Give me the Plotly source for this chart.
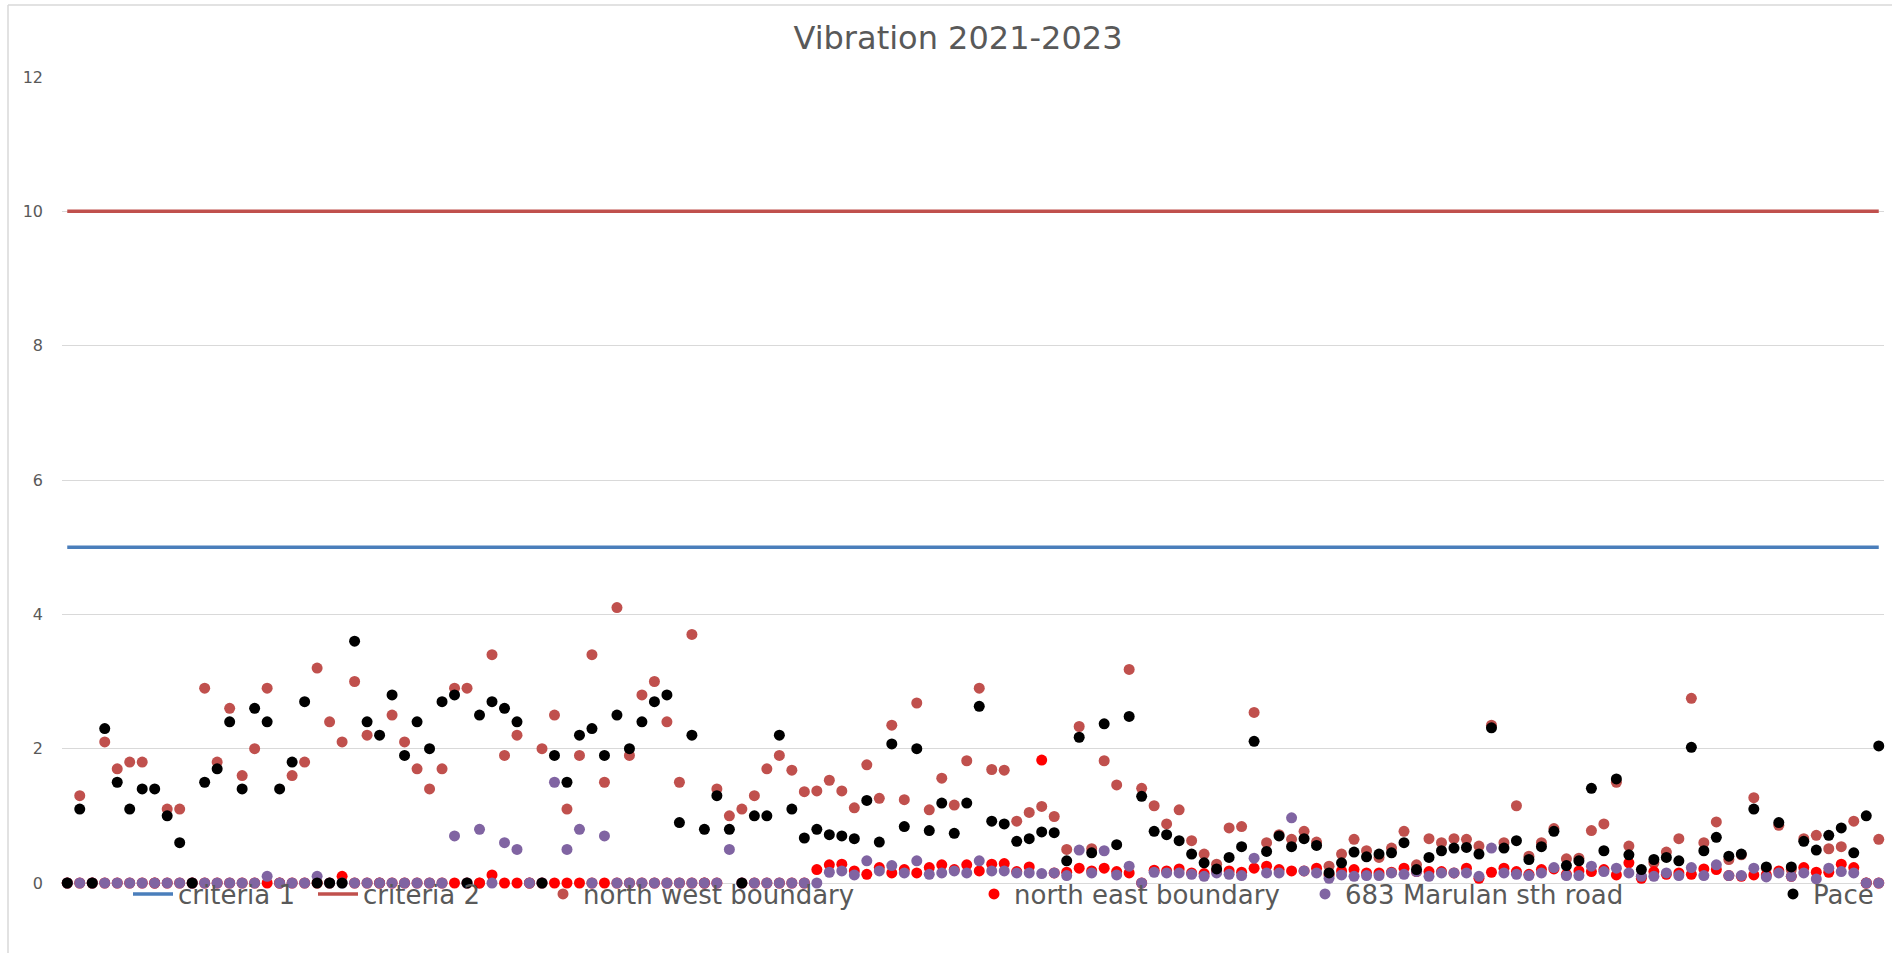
import plotly.graph_objects as go

N = 146
categories = list(range(N))

criteria_1 = [5] * N
criteria_2 = [10] * N

north_west = [
    0, 1.3, 0, 2.1, 1.7, 1.8, 1.8, 0, 1.1, 1.1,
    0, 2.9, 1.8, 2.6, 1.6, 2.0, 2.9, 0, 1.6, 1.8,
    3.2, 2.4, 2.1, 3.0, 2.2, 0, 2.5, 2.1, 1.7, 1.4,
    1.7, 2.9, 2.9, 0, 3.4, 1.9, 2.2, 0, 2.0, 2.5,
    1.1, 1.9, 3.4, 1.5, 4.1, 1.9, 2.8, 3.0, 2.4, 1.5,
    3.7, 0, 1.4, 1.0, 1.1, 1.3, 1.7, 1.9, 1.68, 1.36,
    1.37, 1.53, 1.37, 1.12, 1.76, 1.26, 2.35, 1.24, 2.68, 1.09,
    1.56, 1.16, 1.82, 2.9, 1.69, 1.68, 0.92, 1.05, 1.14, 0.99,
    0.5, 2.33, 0.51, 1.82, 1.46, 3.18, 1.41, 1.15, 0.88, 1.09,
    0.63, 0.43, 0.28, 0.82, 0.84, 2.54, 0.6, 0.72, 0.65, 0.77,
    0.61, 0.25, 0.43, 0.65, 0.48, 0.38, 0.52, 0.77, 0.27, 0.66,
    0.6, 0.66, 0.65, 0.55, 2.35, 0.6, 1.15, 0.4, 0.6, 0.81,
    0.36, 0.37, 0.78, 0.88, 1.5, 0.55, 0.1, 0.3, 0.46, 0.66,
    2.75, 0.6, 0.91, 0.35, 0.42, 1.27, 0.22, 0.86, 0.2, 0.66,
    0.71, 0.51, 0.54, 0.92, 0, 0.65,
]

north_east = [
    0, 0, 0, 0, 0, 0, 0, 0, 0, 0,
    0, 0, 0, 0, 0, 0, 0, 0, 0, 0,
    0, 0, 0.1, 0, 0, 0, 0, 0, 0, 0,
    0, 0, 0, 0, 0.12, 0, 0, 0, 0, 0,
    0, 0, 0, 0, 0, 0, 0, 0, 0, 0,
    0, 0, 0, None, 0, 0, 0, 0, 0, 0,
    0.2, 0.27, 0.28, 0.18, 0.13, 0.23, 0.15, 0.2, 0.15, 0.23,
    0.27, 0.2, 0.27, 0.18, 0.28, 0.29, 0.17, 0.24, 1.83, 0.15,
    0.16, 0.22, 0.18, 0.22, 0.17, 0.15, 0, 0.19, 0.18, 0.21,
    0.15, 0.14, 0.18, 0.18, 0.16, 0.22, 0.25, 0.2, 0.18, 0.18,
    0.22, 0.12, 0.18, 0.2, 0.15, 0.15, 0.16, 0.22, 0.17, 0.17,
    0.17, 0.15, 0.22, 0.07, 0.16, 0.22, 0.17, 0.13, 0.2, 0.21,
    0.13, 0.18, 0.17, 0.2, 0.12, 0.3, 0.07, 0.17, 0.13, 0.15,
    0.13, 0.21, 0.2, 0.11, 0.1, 0.12, 0.12, 0.18, 0.1, 0.23,
    0.16, 0.16, 0.28, 0.23, 0, 0,
]

marulan_683 = [
    0, 0, 0, 0, 0, 0, 0, 0, 0, 0,
    0, 0, 0, 0, 0, 0, 0.1, 0, 0, 0,
    0.1, 0, 0, 0, 0, 0, 0, 0, 0, 0,
    0, 0.7, 0, 0.8, 0, 0.6, 0.5, 0, 0, 1.5,
    0.5, 0.8, 0, 0.7, 0, 0, 0, 0, 0, 0,
    0, 0, 0, 0.5, 0, 0, 0, 0, 0, 0,
    0, 0.16, 0.18, 0.12, 0.33, 0.18, 0.26, 0.15, 0.33, 0.13,
    0.15, 0.18, 0.15, 0.33, 0.18, 0.18, 0.15, 0.15, 0.14, 0.15,
    0.11, 0.49, 0.15, 0.48, 0.12, 0.25, 0, 0.16, 0.15, 0.15,
    0.13, 0.1, 0.15, 0.13, 0.11, 0.37, 0.15, 0.15, 0.97, 0.18,
    0.15, 0.07, 0.12, 0.1, 0.11, 0.11, 0.15, 0.13, 0.17, 0.1,
    0.15, 0.15, 0.15, 0.1, 0.52, 0.15, 0.13, 0.11, 0.15, 0.23,
    0.11, 0.11, 0.25, 0.17, 0.22, 0.15, 0.1, 0.1, 0.15, 0.11,
    0.23, 0.11, 0.27, 0.11, 0.11, 0.22, 0.09, 0.15, 0.1, 0.15,
    0.06, 0.22, 0.17, 0.15, 0, 0,
]

pace = [
    0, 1.1, 0, 2.3, 1.5, 1.1, 1.4, 1.4, 1.0, 0.6,
    0, 1.5, 1.7, 2.4, 1.4, 2.6, 2.4, 1.4, 1.8, 2.7,
    0, 0, 0, 3.6, 2.4, 2.2, 2.8, 1.9, 2.4, 2.0,
    2.7, 2.8, 0, 2.5, 2.7, 2.6, 2.4, None, 0, 1.9,
    1.5, 2.2, 2.3, 1.9, 2.5, 2.0, 2.4, 2.7, 2.8, 0.9,
    2.2, 0.8, 1.3, 0.8, 0, 1.0, 1.0, 2.2, 1.1, 0.67,
    0.8, 0.72, 0.7, 0.66, 1.23, 0.61, 2.07, 0.84, 2.0, 0.78,
    1.19, 0.74, 1.19, 2.63, 0.92, 0.88, 0.62, 0.66, 0.76, 0.75,
    0.33, 2.17, 0.45, 2.37, 0.57, 2.48, 1.29, 0.77, 0.72, 0.63,
    0.43, 0.3, 0.21, 0.38, 0.54, 2.11, 0.47, 0.7, 0.54, 0.66,
    0.56, 0.15, 0.3, 0.46, 0.39, 0.43, 0.45, 0.6, 0.2, 0.38,
    0.48, 0.52, 0.53, 0.43, 2.31, 0.52, 0.63, 0.35, 0.54, 0.77,
    0.26, 0.33, 1.41, 0.48, 1.55, 0.42, 0.2, 0.35, 0.38, 0.33,
    2.02, 0.48, 0.68, 0.4, 0.43, 1.1, 0.24, 0.9, 0.24, 0.62,
    0.49, 0.71, 0.82, 0.45, 1.0, 2.04,
]

y_ticks = [0, 2, 4, 6, 8, 10, 12]
title_text = "Vibration 2021-2023"

FONT = "DejaVu Sans"
GREY = "#595959"
W, H = 1892, 953
ML, MR, MT, MB = 62, 8, 77, 70
PW = W - ML - MR
PH = H - MT - MB


def px_to_paper_x(px):
    return (px - ML) / PW


def px_to_paper_y(py):
    return (H - MB - py) / PH


fig = go.Figure()

fig.add_trace(go.Scatter(x=categories, y=criteria_1, mode="lines", name="criteria 1",
                         line=dict(color="#4A7EBB", width=3.5), legend="legend",
                         showlegend=True))
fig.add_trace(go.Scatter(x=categories, y=criteria_2, mode="lines", name="criteria 2",
                         line=dict(color="#C0504D", width=3.5), legend="legend2",
                         showlegend=True))

marker_series = [
    ("north west boundary", north_west, "#C0504D", "legend3"),
    ("north east boundary", north_east, "#FF0000", "legend4"),
    ("683 Marulan sth road", marulan_683, "#8064A2", "legend5"),
    ("Pace", pace, "#000000", "legend6"),
]
for name, vals, col, lg in marker_series:
    fig.add_trace(go.Scatter(x=categories, y=vals, mode="markers", name=name,
                             marker=dict(color=col, size=11, line=dict(width=0)),
                             cliponaxis=False, legend=lg, showlegend=True))

legend_left_px = {"legend": 128, "legend2": 313, "legend3": 543,
                  "legend4": 974, "legend5": 1305, "legend6": 1773}
legend_kw = {}
for key, lx in legend_left_px.items():
    legend_kw[key] = dict(x=px_to_paper_x(lx), xanchor="left",
                          y=px_to_paper_y(894), yanchor="middle",
                          orientation="h", bgcolor="rgba(0,0,0,0)",
                          font=dict(family=FONT, size=26, color=GREY))
legend_kw["legend"]["itemwidth"] = 40
legend_kw["legend2"]["itemwidth"] = 40

fig.update_layout(
    width=W, height=H,
    showlegend=True,
    margin=dict(l=ML, r=MR, t=MT, b=MB),
    paper_bgcolor="white", plot_bgcolor="white",
    title=dict(text=title_text, x=px_to_paper_x(958), xref="paper", xanchor="center",
               y=1 - 38 / H, yanchor="middle",
               font=dict(family=FONT, size=32, color=GREY)),
    xaxis=dict(range=[-0.42, 145.42], showgrid=False, showticklabels=False,
               zeroline=False, showline=False, ticks=""),
    yaxis=dict(range=[0, 12], tickvals=y_ticks, showgrid=True, gridcolor="#D9D9D9",
               gridwidth=1, zeroline=True, zerolinecolor="#D9D9D9", zerolinewidth=1,
               showline=False, ticks="", ticklabelstandoff=18,
               tickfont=dict(family=FONT, size=16, color=GREY)),
    **legend_kw,
)

# chart-area border (left and top edges visible)
fig.add_shape(type="line", xref="paper", yref="paper",
              x0=px_to_paper_x(8), x1=px_to_paper_x(8),
              y0=px_to_paper_y(953), y1=px_to_paper_y(5),
              line=dict(color="#D9D9D9", width=1.5))
fig.add_shape(type="line", xref="paper", yref="paper",
              x0=px_to_paper_x(8), x1=px_to_paper_x(1892),
              y0=px_to_paper_y(5), y1=px_to_paper_y(5),
              line=dict(color="#D9D9D9", width=1.5))

fig.write_html(
    "out.html",
    config={"displayModeBar": False},
    post_script="document.body.style.margin='0';document.body.style.overflow='hidden';",
)
